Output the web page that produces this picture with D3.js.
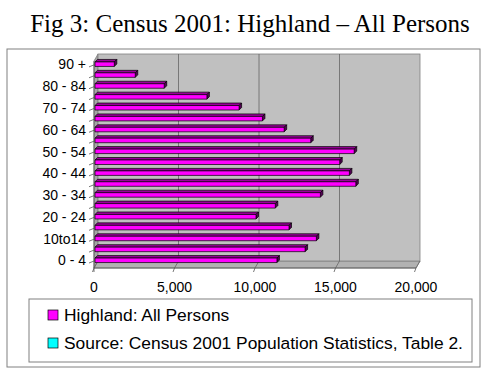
<!DOCTYPE html>
<html>
<head>
<meta charset="utf-8">
<script src="https://cdn.jsdelivr.net/npm/d3@7"></script>
<style>
  body { margin: 0; background: #fff; }
  svg { display: block; }
</style>
</head>
<body>
<svg id="chart" width="500" height="375"></svg>
<script>
const ageGroups = ['0 - 4', '5 - 9', '10to14', '15 - 19', '20 - 24', '25 - 29', '30 - 34',
    '35 - 39', '40 - 44', '45 - 49', '50 - 54', '55 - 59', '60 - 64', '65 - 69',
    '70 - 74', '75 - 79', '80 - 84', '85 - 89', '90 +'];
const persons = [11300, 13050, 13750, 12050, 10000, 11200, 14000,
    16200, 15800, 15200, 16100, 13400, 11750, 10400,
    8950, 6950, 4300, 2500, 1200];
const valueTicks = [0, 5000, 10000, 15000, 20000];
const legendLabels = ['Highland: All Persons', 'Source: Census 2001 Population Statistics, Table 2.'];
const legendColours = ['#ff00ff', '#00ffff'];
const title = 'Fig 3: Census 2001: Highland \u2013 All Persons';

const svg = d3.select('#chart');

// oblique depth of the 3D box
const depth = { dx: 4, dy: -7 };
const bar = { dx: 2.5, dy: -2.5, h: 4.5 };

const x = d3.scaleLinear().domain([0, 20000]).range([94, 416]);
const y = d3.scaleBand().domain(ageGroups).range([268, 61]);
const bw = y.bandwidth();

const yTop = y.range()[1], yBot = y.range()[0];
const x0 = x(0), x1 = x(20000);

// title + frame
svg.append('text')
    .attr('x', 250).attr('y', 32)
    .attr('text-anchor', 'middle')
    .attr('font-family', '"Liberation Serif", "Times New Roman", serif')
    .attr('font-size', 25)
    .text(title);

svg.append('rect')
    .attr('x', 7).attr('y', 49).attr('width', 473).attr('height', 318)
    .attr('fill', 'none').attr('stroke', '#808080');

const pts = a => a.map(p => p.join(',')).join(' ');

// walls
svg.append('polygon')
    .attr('points', pts([[x0, yTop], [x0, yBot], [x0 + depth.dx, yBot + depth.dy], [x0 + depth.dx, yTop + depth.dy]]))
    .attr('fill', '#a6a6a6').attr('stroke', '#808080').attr('stroke-width', 0.8);

svg.append('polygon')
    .attr('points', pts([[x0, yBot], [x1, yBot], [x1 + depth.dx, yBot + depth.dy], [x0 + depth.dx, yBot + depth.dy]]))
    .attr('fill', '#b2b2b2').attr('stroke', '#808080').attr('stroke-width', 0.8);

svg.append('rect')
    .attr('x', x0 + depth.dx).attr('y', yTop + depth.dy)
    .attr('width', x1 - x0).attr('height', yBot - yTop)
    .attr('fill', '#c0c0c0').attr('stroke', '#808080').attr('stroke-width', 0.8);

// gridlines on back wall and floor
const grid = svg.append('g').attr('stroke', '#666').attr('stroke-width', 0.8);
grid.selectAll('line.back').data(valueTicks.slice(1, -1)).join('line')
    .attr('class', 'back')
    .attr('x1', d => x(d) + depth.dx).attr('x2', d => x(d) + depth.dx)
    .attr('y1', yTop + depth.dy).attr('y2', yBot + depth.dy);
grid.selectAll('line.floor').data(valueTicks).join('line')
    .attr('class', 'floor')
    .attr('x1', d => x(d)).attr('y1', yBot)
    .attr('x2', d => x(d) + depth.dx).attr('y2', yBot + depth.dy);

// axes
const axes = svg.append('g').attr('stroke', '#555').attr('stroke-width', 0.8);
axes.append('line').attr('x1', x0).attr('x2', x1).attr('y1', yBot).attr('y2', yBot);
axes.append('line').attr('x1', x0).attr('x2', x0).attr('y1', yTop).attr('y2', yBot + 4);
axes.selectAll('line.vt').data(valueTicks).join('line')
    .attr('class', 'vt')
    .attr('x1', d => x(d)).attr('y1', yBot)
    .attr('x2', d => x(d) - 1.5).attr('y2', yBot + 4);
axes.selectAll('line.ct').data(ageGroups).join('line')
    .attr('class', 'ct')
    .attr('x1', x0 - 5).attr('y1', d => y(d) + bw + depth.dy + 2)
    .attr('x2', x0).attr('y2', d => y(d) + bw + depth.dy);

// bars (front face, top face, end cap)
const bars = svg.append('g').attr('stroke', '#000').attr('stroke-width', 0.7)
    .attr('stroke-linejoin', 'round');
const barY = d => y(d) + bw / 2 - 3.5 - 1;
const barX0 = x0 + 1;

bars.selectAll('polygon.top').data(ageGroups).join('polygon')
    .attr('class', 'top')
    .attr('fill', '#990099')
    .attr('points', (d, i) => {
        const t = barY(d), r = x(persons[i]) + 1;
        return pts([[barX0, t], [r, t], [r + bar.dx, t + bar.dy], [barX0 + bar.dx, t + bar.dy]]);
    });
bars.selectAll('polygon.cap').data(ageGroups).join('polygon')
    .attr('class', 'cap')
    .attr('fill', '#550055')
    .attr('points', (d, i) => {
        const t = barY(d), r = x(persons[i]) + 1;
        return pts([[r, t], [r, t + bar.h], [r + bar.dx, t + bar.h + bar.dy], [r + bar.dx, t + bar.dy]]);
    });
bars.selectAll('rect').data(ageGroups).join('rect')
    .attr('fill', '#ff00ff')
    .attr('x', barX0).attr('y', d => barY(d))
    .attr('width', (d, i) => x(persons[i]) + 1 - barX0)
    .attr('height', bar.h);

// labels
const sans = '"Liberation Sans", Arial, sans-serif';
svg.append('g').selectAll('text').data(ageGroups.filter((d, i) => i % 2 === 0)).join('text')
    .attr('x', 86).attr('y', d => y(d) + bw / 2 - 2)
    .attr('dy', '0.35em')
    .attr('text-anchor', 'end')
    .attr('font-family', sans).attr('font-size', 14)
    .text(d => d);

svg.append('g').selectAll('text').data(valueTicks).join('text')
    .attr('x', d => x(d)).attr('y', 291.5)
    .attr('text-anchor', 'middle')
    .attr('font-family', sans).attr('font-size', 14)
    .text(d => d3.format(',')(d));

// legend
svg.append('rect')
    .attr('x', 29).attr('y', 299).attr('width', 443).attr('height', 63)
    .attr('fill', '#fff').attr('stroke', '#808080');
const leg = svg.append('g').selectAll('g').data(legendLabels).join('g')
    .attr('transform', (d, i) => `translate(48,${315 + i * 28})`);
leg.append('rect')
    .attr('x', 0).attr('y', -5).attr('width', 10).attr('height', 10)
    .attr('fill', (d, i) => legendColours[i]).attr('stroke', '#000').attr('stroke-width', 0.7);
leg.append('text')
    .attr('x', 16).attr('y', 0).attr('dy', '0.35em')
    .attr('font-family', sans).attr('font-size', 17.4)
    .text(d => d);
</script>
</body>
</html>
